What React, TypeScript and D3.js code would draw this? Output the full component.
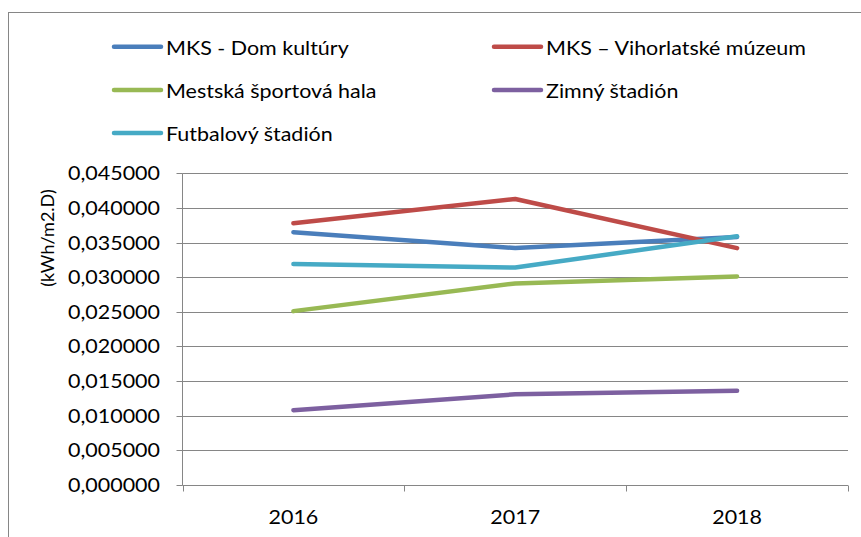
import React, { useEffect, useRef } from 'react';
import * as d3 from 'd3';

const years = ['2016', '2017', '2018'];
const seriesNames = [
    'MKS - Dom kultúry',
    'MKS – Vihorlatské múzeum',
    'Mestská športová hala',
    'Zimný štadión',
    'Futbalový štadión'
];
const seriesColors = ['#4a7ebb', '#be4b48', '#98b954', '#7d60a0', '#46aac5'];
const domKultury = [0.0365, 0.0342, 0.0358];
const vihorlatskeMuzeum = [0.0378, 0.0413, 0.0342];
const sportovaHala = [0.0251, 0.0291, 0.0301];
const zimnyStadion = [0.0108, 0.0131, 0.0136];
const futbalovyStadion = [0.0319, 0.0314, 0.0359];
const yTicks = [0, 0.005, 0.01, 0.015, 0.02, 0.025, 0.03, 0.035, 0.04, 0.045];

const font = 'Lato, "Open Sans", sans-serif';
const stretch = 1.13; // the original text is a bit wider than Lato

const App = () => {
    const ref = useRef(null);

    useEffect(() => {
        const svg = d3.select(ref.current);
        svg.selectAll('*').remove();

        const values = [domKultury, vihorlatskeMuzeum, sportovaHala, zimnyStadion, futbalovyStadion];
        const left = 182.5, right = 848, top = 173.3, bottom = 485;

        // outer border
        svg.append('rect')
            .attr('x', 8.5).attr('y', 12.5)
            .attr('width', 870).attr('height', 540)
            .attr('fill', 'white')
            .attr('stroke', '#868686');

        const x = d3.scaleBand().domain(years).range([left, right]);
        const y = d3.scaleLinear().domain([0, 0.045]).range([bottom, top]);

        // gridlines
        svg.append('g')
            .selectAll('line')
            .data(yTicks.slice(1))
            .enter().append('line')
            .attr('x1', left).attr('x2', right)
            .attr('y1', d => Math.round(y(d)) + 0.5)
            .attr('y2', d => Math.round(y(d)) + 0.5)
            .attr('stroke', '#868686');

        const fmt = (d: number) => d.toFixed(6).replace('.', ',');

        // y axis
        const yAxis = svg.append('g');
        yAxis.append('line')
            .attr('x1', left).attr('x2', left)
            .attr('y1', top).attr('y2', Math.round(bottom) + 0.5)
            .attr('stroke', '#868686');
        yAxis.selectAll('line.tk')
            .data(yTicks)
            .enter().append('line')
            .attr('class', 'tk')
            .attr('x1', left - 6).attr('x2', left)
            .attr('y1', d => Math.round(y(d)) + 0.5)
            .attr('y2', d => Math.round(y(d)) + 0.5)
            .attr('stroke', '#868686');
        yAxis.selectAll('text')
            .data(yTicks)
            .enter().append('text')
            .attr('transform', d => `translate(160,${y(d) + 7}) scale(${stretch},1)`)
            .attr('text-anchor', 'end')
            .attr('font-family', font).attr('font-size', 19)
            .text(fmt);

        // x axis
        const xAxis = svg.append('g')
            .attr('transform', `translate(0,${Math.round(bottom) + 0.5})`);
        xAxis.append('line')
            .attr('x1', left).attr('x2', right)
            .attr('stroke', '#868686');
        xAxis.selectAll('line.tk')
            .data([left, ...years.map(d => (x(d) as number) + x.bandwidth())])
            .enter().append('line')
            .attr('class', 'tk')
            .attr('x1', d => Math.round(d) + 0.5).attr('x2', d => Math.round(d) + 0.5)
            .attr('y1', 0).attr('y2', 6)
            .attr('stroke', '#868686');
        xAxis.selectAll('text')
            .data(years)
            .enter().append('text')
            .attr('transform', d => `translate(${(x(d) as number) + x.bandwidth() / 2},38.5) scale(${stretch},1)`)
            .attr('text-anchor', 'middle')
            .attr('font-family', font).attr('font-size', 19)
            .text(d => d);

        svg.append('text')
            .attr('transform', `translate(54,238) rotate(-90)`)
            .attr('text-anchor', 'middle')
            .attr('font-family', font).attr('font-size', 18)
            .text('(kWh/m2.D)');

        const line = d3.line<number>()
            .x((d, i) => (x(years[i]) as number) + x.bandwidth() / 2)
            .y(d => y(d));

        values.forEach((vals, i) => {
            svg.append('path')
                .datum(vals)
                .attr('d', line)
                .attr('fill', 'none')
                .attr('stroke', seriesColors[i])
                .attr('stroke-width', 4.5)
                .attr('stroke-linecap', 'round')
                .attr('stroke-linejoin', 'round');
        });

        // legend
        const legendPos = [[113, 46.7], [493, 46.7], [113, 90], [493, 90], [113, 133]];
        seriesNames.forEach((name, i) => {
            const [lx, ly] = legendPos[i];
            const g = svg.append('g').attr('transform', `translate(${lx},${ly})`);
            g.append('line')
                .attr('x1', 1).attr('x2', 48)
                .attr('stroke', seriesColors[i])
                .attr('stroke-width', 4.5)
                .attr('stroke-linecap', 'round');
            g.append('text')
                .attr('transform', `translate(53,8) scale(${stretch},1)`)
                .attr('font-family', font).attr('font-size', 19)
                .text(name);
        });
    }, []);

    return (
        <svg ref={ref} width={861} height={537}
            style={{ position: 'absolute', left: 0, top: 0, background: 'white' }} />
    );
};

export default App;
